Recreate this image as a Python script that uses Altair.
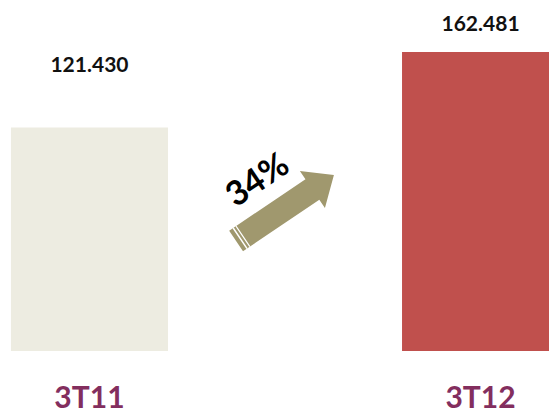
import altair as alt
import pandas as pd

categories = ["3T11", "3T12"]
values = [121430, 162481]
value_labels = ["121.430", "162.481"]
growth_label = ["34%"]
bar_colors = ["#EDECE1", "#C0504D"]

df = pd.DataFrame({"cat": categories, "val": values, "label": value_labels})

FONT = "Lato"

x_enc = alt.X(
    "cat:N",
    sort=categories,
    scale=alt.Scale(range=[0, 570], paddingInner=0.5985, paddingOuter=0.028),
    axis=alt.Axis(
        title=None, domain=False, ticks=False, labelAngle=0,
        labelFont=FONT, labelFontSize=30, labelFontWeight="bold",
        labelColor="#832E5E", labelPadding=32, grid=False,
    ),
)
y_scale = alt.Scale(domain=[0, 190740], nice=False, zero=True)
y_enc = alt.Y("val:Q", scale=y_scale, axis=None)

base = alt.Chart(df)

bars = base.mark_bar(clip=True).encode(
    x=x_enc,
    y=y_enc,
    color=alt.Color("cat:N", scale=alt.Scale(domain=categories, range=bar_colors), legend=None),
)

lab1 = base.transform_filter(alt.datum.cat == categories[0]).mark_text(
    font=FONT, fontSize=21, fontWeight="bold", color="#111111", dy=-62
).encode(x=alt.X("cat:N", sort=categories), y=alt.Y("val:Q", scale=y_scale), text="label:N")

lab2 = base.transform_filter(alt.datum.cat == categories[1]).mark_text(
    font=FONT, fontSize=21, fontWeight="bold", color="#111111", dy=-27
).encode(x=alt.X("cat:N", sort=categories), y=alt.Y("val:Q", scale=y_scale), text="label:N")

ann = alt.Chart(pd.DataFrame({"g": growth_label}))

arrow_path = "M -1,-0.21 L 0.56,-0.21 L 0.56,-0.38 L 1,0 L 0.56,0.38 L 0.56,0.21 L -1,0.21 Z"
stripe_path = ("M -0.93,-0.21 L -0.905,-0.21 L -0.905,0.21 L -0.93,0.21 Z "
               "M -0.87,-0.21 L -0.85,-0.21 L -0.85,0.21 L -0.87,0.21 Z")

arrow = ann.mark_point(
    shape=arrow_path, filled=True, color="#A0986E", opacity=1, size=13924, angle=326
).encode(x=alt.value(285), y=alt.value(208))

stripes = ann.mark_point(
    shape=stripe_path, filled=True, color="#FFFFFF", opacity=1, size=13924, angle=326
).encode(x=alt.value(285), y=alt.value(208))

growth = ann.mark_text(
    font=FONT, fontSize=34, fontWeight="bold", color="#000000", angle=326
).encode(x=alt.value(258), y=alt.value(181), text="g:N")

chart = alt.layer(bars, lab1, lab2, arrow, stripes, growth).properties(
    width=549, height=351,
    padding={"left": 0, "top": 0, "right": 0, "bottom": 62},
    autosize=alt.AutoSizeParams(type="none"),
    background="#FFFFFF",
).configure_view(stroke=None)

chart.save("out.html", embed_options={"renderer": "svg", "actions": False})
